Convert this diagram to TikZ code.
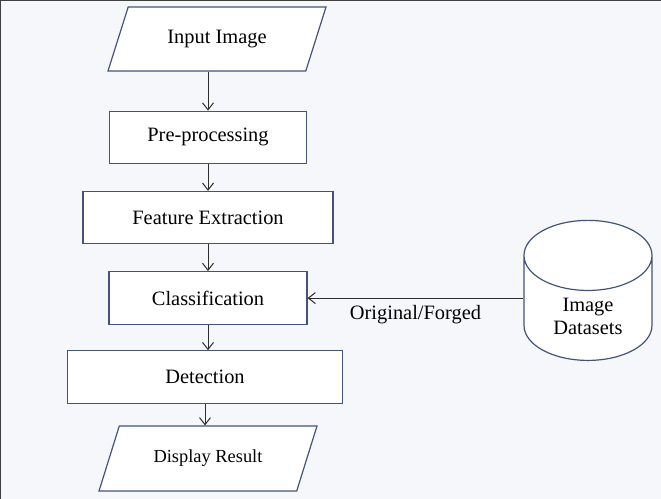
\documentclass[tikz,border=0pt]{standalone}
\usepackage{fontspec}
\setmainfont{Liberation Serif}
\newfontfamily\diagfont{Liberation Serif}
\usetikzlibrary{arrows.meta, positioning, shapes.geometric}
\definecolor{boxline}{RGB}{68,84,120}
\definecolor{arrowline}{RGB}{45,45,45}
\definecolor{pagebg}{RGB}{246,247,250}
\definecolor{frameline}{RGB}{64,64,64}
\tikzset{
  box/.style={
    rectangle,
    draw=boxline,
    fill=white,
    line width=0.6pt,
    align=center,
    minimum height=26pt,
    font=\diagfont\fontsize{10.2}{12}\selectfont
  },
  iobox/.style={
    trapezium,
    trapezium left angle=57,
    trapezium right angle=123,
    trapezium stretches body,
    draw=boxline,
    fill=white,
    line width=0.6pt,
    minimum width=109pt,
    minimum height=32pt,
    font=\diagfont\fontsize{10.2}{12}\selectfont
  },
  store/.style={
    cylinder,
    shape border rotate=90,
    aspect=0.85,
    draw=boxline,
    fill=white,
    line width=0.6pt,
    align=center,
    minimum width=64pt,
    minimum height=69pt,
    font=\diagfont\fontsize{10.2}{11.5}\selectfont
  },
  arrow/.style={-{Straight Barb[length=3.5pt, width=5.5pt]}, draw=arrowline, line width=0.5pt},
  note/.style={font=\diagfont\fontsize{10.2}{12}\selectfont, align=center}
}
\begin{document}
\begin{tikzpicture}[x=0.5pt, y=-0.5pt]
\fill[pagebg] (0,0) rectangle (661,499);
\useasboundingbox (0,0) rectangle (661,499);
\draw[frameline, line width=1pt] (0,499) -- (0,0) -- (661,0);

\node[iobox] (input) at (217,39) {Input Image};
\node[box, minimum width=98.5pt, below=19.5pt of input, xshift=-4.5pt] (preproc) {Pre-processing};
\node[box, minimum width=125pt, below=13.5pt of preproc] (features) {Feature Extraction};
\node[box, minimum width=99pt, minimum height=26.5pt, below=13.5pt of features] (classif) {Classification};
\node[box, minimum width=137.5pt, minimum height=26.5pt, below=12.5pt of classif, xshift=-1.5pt] (detect) {Detection};
\node[iobox, trapezium left angle=56, trapezium right angle=124, minimum height=32.5pt,
  font=\diagfont\fontsize{9.2}{11}\selectfont, below=10.5pt of detect, xshift=1.5pt] (display) {Display Result};
\node[store] (datasets) at (588,316) {Image\\Datasets};

\draw[arrow] (input.south -| preproc) -- (preproc);
\draw[arrow] (preproc) -- (preproc |- features.north);
\draw[arrow] (features) -- (features |- classif.north);
\draw[arrow] (classif) -- (classif |- detect.north);
\draw[arrow] (detect) -- (detect |- display.north);
\draw[arrow] (datasets.west |- classif) -- node[note, below] {Original/Forged} (classif);
\end{tikzpicture}
\end{document}
